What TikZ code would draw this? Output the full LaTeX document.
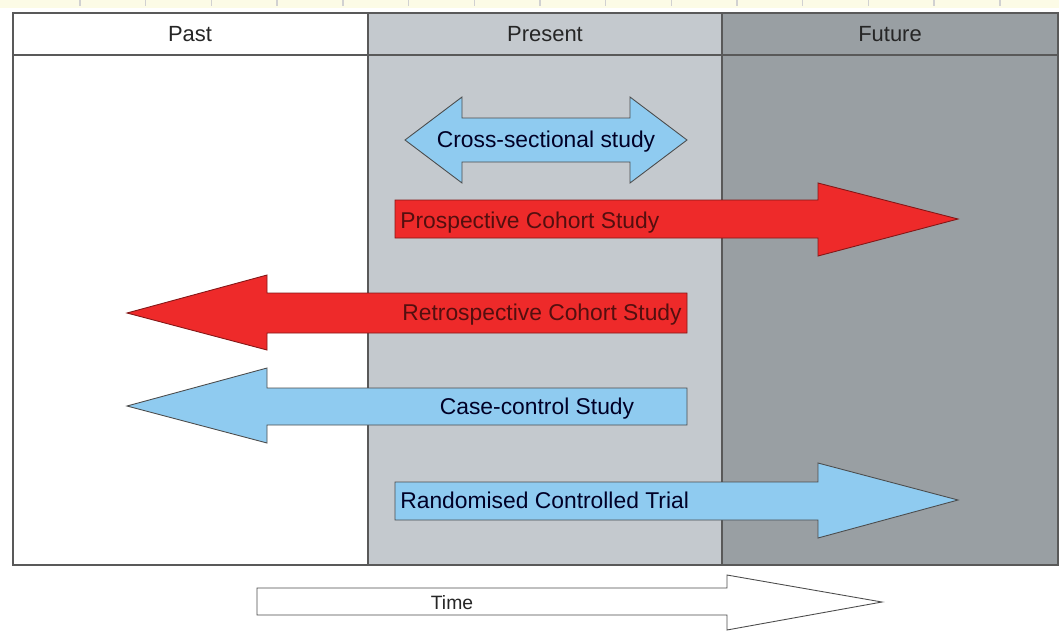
\documentclass[tikz,border=0pt]{standalone}
\usepackage{fontspec}
\setmainfont{Liberation Sans}
\definecolor{presentgray}{HTML}{C4C9CE}
\definecolor{futuregray}{HTML}{999FA3}
\definecolor{studyred}{HTML}{EE2A2A}
\definecolor{studyblue}{HTML}{8FCBF0}
\definecolor{rulecream}{HTML}{FCFBE6}
\begin{document}
\begin{tikzpicture}[x=0.02cm,y=-0.02cm,
    redarrow/.style={fill=studyred,draw=studyred!55!black,line width=0.5pt},
    bluearrow/.style={fill=studyblue,draw=black!70,line width=0.5pt},
    headtext/.style={font=\fontsize{12.5}{15}\selectfont,text=black!85,inner sep=0pt,text height=9pt,text depth=0pt},
    studytext/.style={font=\fontsize{13}{15}\selectfont,text=black!85!blue,inner sep=0pt,text height=9pt,text depth=0pt}]
    \useasboundingbox (0,0) rectangle (1059,633);
    % ruler strip
    \fill[rulecream] (0,0) rectangle (1059,8);
    \foreach \i in {0,...,14}
        \draw[black!18,line width=0.8pt] (80+65.7*\i,0) -- (80+65.7*\i,6);
    % columns
    \fill[presentgray] (368,13) rectangle (722,565);
    \fill[futuregray] (722,13) rectangle (1059,565);
    \draw[black!65,line width=0.6pt] (13,13) rectangle (1058,565);
    \draw[black!65,line width=0.6pt] (13,55) -- (1058,55);
    \draw[black!65,line width=0.6pt] (368,13) -- (368,565);
    \draw[black!65,line width=0.6pt] (722,13) -- (722,565);
    \node[headtext] (past) at (190,34) {Past};
    \node[headtext] (present) at (545,34) {Present};
    \node[headtext] (future) at (890,34) {Future};
    % cross-sectional
    \draw[bluearrow] (405,140) -- (462,97) -- (462,118) -- (630,118) -- (630,97)
        -- (687,140) -- (630,183) -- (630,162) -- (462,162) -- (462,183) -- cycle;
    \node[studytext] (cross) at (546,140) {Cross-sectional study};
    % prospective cohort
    \draw[redarrow] (395,200) -- (818,200) -- (818,183) -- (958,219)
        -- (818,256) -- (818,238) -- (395,238) -- cycle;
    \node[studytext,text=studyred!35!black,anchor=west] (prosp) at (400,221) {Prospective Cohort Study};
    % retrospective cohort
    \draw[redarrow] (687,293) -- (267,293) -- (267,275) -- (127,313)
        -- (267,350) -- (267,333) -- (687,333) -- cycle;
    \node[studytext,text=studyred!35!black,anchor=east] (retro) at (682,313) {Retrospective Cohort Study};
    % case-control
    \draw[bluearrow] (687,388) -- (267,388) -- (267,368) -- (127,406)
        -- (267,443) -- (267,425) -- (687,425) -- cycle;
    \node[studytext] (casectl) at (537,407) {Case-control Study};
    % RCT
    \draw[bluearrow] (395,482) -- (818,482) -- (818,463) -- (958,500)
        -- (818,538) -- (818,520) -- (395,520) -- cycle;
    \node[studytext,anchor=west] (rct) at (400,501) {Randomised Controlled Trial};
    % time axis
    \draw[fill=white,draw=black!70,line width=0.5pt] (257,588) -- (727,588) -- (727,575) -- (882,602)
        -- (727,630) -- (727,615) -- (257,615) -- cycle;
    \node[headtext,font=\fontsize{11}{13}\selectfont,text height=8pt] (time) at (452,602) {Time};
\end{tikzpicture}
\end{document}
